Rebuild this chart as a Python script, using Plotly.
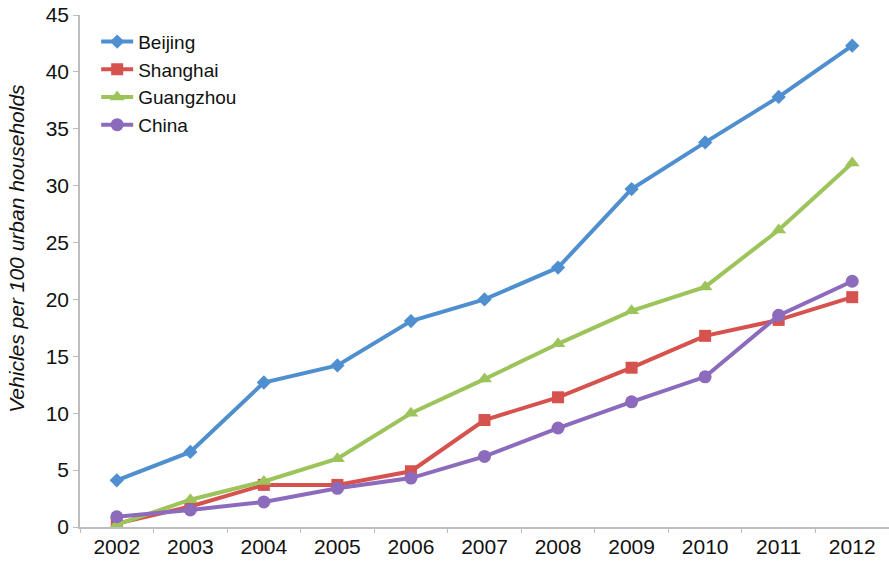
import plotly.graph_objects as go

years = ["2002", "2003", "2004", "2005", "2006", "2007", "2008", "2009", "2010", "2011", "2012"]
beijing = [4.1, 6.6, 12.7, 14.2, 18.1, 20.0, 22.8, 29.7, 33.8, 37.8, 42.3]
shanghai = [0.3, 1.8, 3.7, 3.7, 4.9, 9.4, 11.4, 14.0, 16.8, 18.2, 20.2]
guangzhou = [0.2, 2.4, 4.0, 6.0, 10.0, 13.0, 16.1, 19.0, 21.1, 26.1, 32.0]
china = [0.9, 1.5, 2.2, 3.4, 4.3, 6.2, 8.7, 11.0, 13.2, 18.6, 21.6]

series = [
    ("Beijing", beijing, "#4F8FD0", "diamond", 11),
    ("Shanghai", shanghai, "#D6524E", "square", 12),
    ("Guangzhou", guangzhou, "#9CC45A", "triangle-up", 13),
    ("China", china, "#8C6BBD", "circle", 13),
]

fig = go.Figure()
for name, vals, color, symbol, size in series:
    fig.add_trace(go.Scatter(
        x=years, y=vals, name=name, mode="lines+markers",
        line=dict(color=color, width=4),
        marker=dict(symbol=symbol, size=size, color=color),
    ))

fig.update_layout(
    width=889, height=561,
    margin=dict(l=80, r=0, t=15, b=34),
    paper_bgcolor="white", plot_bgcolor="white",
    font=dict(family="Liberation Sans, Arial, sans-serif", size=21, color="#111111"),
    showlegend=True,
    legend=dict(x=0.02, y=0.985, xanchor="left", yanchor="top",
                bgcolor="rgba(0,0,0,0)", font=dict(size=19),
                tracegroupgap=0, itemwidth=32),
)
fig.update_xaxes(
    type="category", range=[-0.5, 10.5],
    showline=True, linecolor="#BDBDBD", linewidth=1.5,
    ticks="outside", tickson="boundaries", ticklen=4, tickcolor="#BDBDBD",
    showgrid=False, zeroline=False,
)
fig.update_yaxes(
    range=[0, 45], dtick=5,
    showline=True, linecolor="#BDBDBD", linewidth=1.5,
    ticks="outside", ticklen=5, tickcolor="#BDBDBD",
    showgrid=False, zeroline=False,
)

# Rotated y-axis title, placed as an annotation so it can sit slightly above centre
fig.add_annotation(
    text="<i>Vehicles per 100 urban households</i>",
    xref="paper", yref="paper", x=-0.078, y=0.545,
    xanchor="center", yanchor="middle", textangle=-90,
    showarrow=False, font=dict(size=21),
)

fig.write_html("out.html")
